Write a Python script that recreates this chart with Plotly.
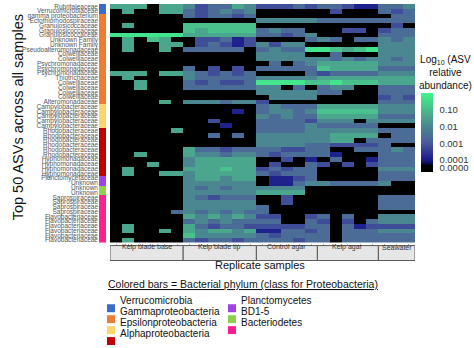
import plotly.graph_objects as go

W, H = 474, 348

row_labels = [
    "Rubritaleaceae", "Verrucomicrobiaceae", "gamma proteobacterium", "Ectothiorhodospiraceae",
    "Granulosicoccaceae", "Granulosicoccaceae", "Granulosicoccaceae", "Unknown Family", "Unknown Family",
    "Pseudoalteromonadaceae", "Colwelliaceae", "Colwelliaceae", "Psychromonadaceae", "Psychromonadaceae",
    "Psychromonadaceae", "Thiotrichaceae", "Colwelliaceae", "Colwelliaceae", "Colwelliaceae", "Colwelliaceae",
    "Alteromonadaceae", "Campylobacteraceae", "Campylobacteraceae", "Campylobacteraceae",
    "Campylobacteraceae", "Campylobacteraceae", "Rhodobacteraceae", "Rhodobacteraceae",
    "Rhodobacteraceae", "Rhodobacteraceae", "Rhodobacteraceae", "Rhodobacteraceae",
    "Hyphomonadaceae", "Hyphomonadaceae", "Hyphomonadaceae", "Hyphomonadaceae",
    "Planctomycetaceae", "Unknown", "Unknown", "Unknown",
    "Saprospiraceae", "Saprospiraceae", "Saprospiraceae", "Saprospiraceae",
    "Flavobacteriaceae", "Flavobacteriaceae", "Flavobacteriaceae", "Flavobacteriaceae",
    "Flavobacteriaceae", "Flavobacteriaceae",
]

phylum_names = ["Verrucomicrobia", "Gammaproteobacteria", "Epsilonproteobacteria",
                "Alphaproteobacteria", "Planctomycetes", "BD1-5", "Bacteriodetes"]
phylum_colors = ["#3b6cc6", "#ee7d31", "#fdd66a", "#c00000", "#a142e6", "#8fd14f", "#ff1f8e"]
phylum_row_counts = [2, 19, 5, 10, 2, 2, 10]

sample_groups = ["Kelp blade base", "Kelp blade tip", "Control agar", "Kelp agar", "Seawater"]
group_sizes = [6, 6, 5, 5, 3]

# abundance class -> log10 relative abundance
level_log10 = {"0": -4.75, "1": -3.9, "2": -3.2, "3": -2.6, "4": -2.0,
               "5": -1.4, "6": -0.9, "7": -0.3}

heat_levels = [
    "555055 423354 22232 33211 334",
    "050055 323434 00000 02000 323",
    "000000 323323 00000 00000 033",
    "000000 000000 44444 33333 333",
    "050000 666666 00000 00000 020",
    "000000 656666 34330 00220 233",
    "777777 555555 33234 00000 333",
    "050650 022312 00003 43033 434",
    "050055 023212 42440 00000 444",
    "050050 333330 34337 76567 444",
    "000000 000000 44440 03000 444",
    "000000 000000 44444 43434 434",
    "000000 000000 03034 55555 444",
    "000000 302020 33333 65555 333",
    "555055 432323 00003 23333 444",
    "050000 433333 44444 55555 555",
    "005000 323223 77776 67666 555",
    "005000 333333 44030 34400 333",
    "000000 000000 44444 33000 333",
    "000000 000000 04444 00000 232",
    "000050 444344 20000 00000 333",
    "000000 000000 34333 55555 444",
    "000000 000010 34434 66666 444",
    "000000 000000 43433 55555 333",
    "000000 002000 33332 44404 444",
    "000000 000100 33334 33333 000",
    "000005 000000 33334 44444 333",
    "000000 003030 44444 45555 033",
    "000000 000000 44444 45503 333",
    "000000 000000 44443 32222 300",
    "000000 533233 33223 30033 343",
    "005000 544344 32333 31000 333",
    "000000 455555 00201 03001 333",
    "000500 455555 02003 20202 333",
    "050000 555655 23233 00000 444",
    "050055 455555 32333 00000 333",
    "000000 455455 01123 00000 333",
    "000000 444444 01134 43333 400",
    "000000 434344 44440 00000 000",
    "000000 444444 55550 00000 000",
    "000000 432333 00200 00000 333",
    "000000 444444 00200 00000 333",
    "000000 444444 30000 00000 333",
    "000003 434343 30000 00000 000",
    "000000 545454 22002 30300 444",
    "000000 343433 33003 20203 444",
    "050000 532332 22223 30312 222",
    "050050 545545 11332 30333 444",
    "000000 644444 32333 30333 333",
    "050000 323323 33323 30333 333",
]

cbar_tickvals = [-1, -2, -3, -4, -4.45]
cbar_ticktext = ["0.10", "0.01", "0.001", "0.0001", "0.0000"]

# ---------------------------------------------------------------------------
n_cols = sum(group_sizes)
xs = list(range(1, n_cols + 1))
ys = list(range(1, len(row_labels) + 1))
z = [[level_log10[c] for c in s.replace(" ", "")] for s in heat_levels]

row_phylum = []
for i, n in enumerate(phylum_row_counts):
    row_phylum += [i] * n

heat_scale = [
    [0.0, "#000000"], [0.085, "#000000"], [0.11, "#0c0c5c"], [0.16, "#1c1c8a"],
    [0.37, "#4a5a9c"], [0.58, "#4b8790"], [0.79, "#4bbb8c"], [1.0, "#3ef78b"],
]

nP = len(phylum_colors)
phy_scale = []
for i, c in enumerate(phylum_colors):
    phy_scale += [[i / nP, c], [(i + 1) / nP, c]]


def px(xp):
    return xp / W


def py(yp):
    return 1 - yp / H


FONT = "Liberation Sans, Arial, sans-serif"

fig = go.Figure()
fig.add_trace(go.Heatmap(
    x=xs, y=ys, z=z, xaxis="x", yaxis="y",
    colorscale=heat_scale, zmin=-4.75, zmax=0,
    colorbar=dict(
        x=px(421), xanchor="left", xpad=0,
        y=py(93), yanchor="top", ypad=0,
        len=79 / H, lenmode="fraction",
        thickness=12, thicknessmode="pixels",
        outlinewidth=0,
        tickvals=cbar_tickvals, ticktext=cbar_ticktext,
        ticks="outside", ticklen=5, tickcolor="rgba(0,0,0,0)",
        tickfont=dict(size=9.5, color="#333", family=FONT),
    ),
    hoverinfo="skip",
))
fig.add_trace(go.Heatmap(
    x=[1], y=ys, z=[[p] for p in row_phylum], xaxis="x2", yaxis="y",
    colorscale=phy_scale, zmin=-0.5, zmax=nP - 0.5, showscale=False, hoverinfo="skip",
))

shapes = []
annotations = []

# strip boxes under the heat map
start = 0.5
for name, n in zip(sample_groups, group_sizes):
    shapes.append(dict(type="rect", xref="x", yref="paper", x0=start, x1=start + n,
                       y0=py(261), y1=py(246), fillcolor="#e6e6e6",
                       line=dict(color="#5a5a5a", width=1), layer="above"))
    annotations.append(dict(x=start + n / 2, y=py(253.5), xref="x", yref="paper",
                            text=name, showarrow=False,
                            font=dict(size=7, color="#333", family=FONT)))
    start += n

annotations.append(dict(x=px(8), y=py(117), xref="paper", yref="paper",
                        text="Top 50 ASVs across all samples", textangle=-90,
                        showarrow=False, font=dict(size=14.5, color="#111", family=FONT)))
annotations.append(dict(x=px(260), y=py(274), xref="paper", yref="paper",
                        text="Replicate samples", showarrow=False,
                        font=dict(size=11, color="#111", family=FONT)))
annotations.append(dict(x=px(106), y=py(293), xref="paper", yref="paper", xanchor="left",
                        text="<u>Colored bars = Bacterial phylum (class for Proteobacteria)</u>",
                        showarrow=False, font=dict(size=10.5, color="#111", family=FONT)))
annotations.append(dict(x=px(417), y=py(93), xref="paper", yref="paper",
                        xanchor="left", yanchor="bottom",
                        text="Log<sub>10</sub> (ASV<br>relative<br>abundance)",
                        showarrow=False, align="center",
                        font=dict(size=10, color="#111", family=FONT)))

# legend of phylum colours (two columns)
legend_pos = [(107, 309), (107, 320), (107, 331), (107, 342), (228, 309), (228, 320), (228, 331)]
for (lx, ly), name, col in zip(legend_pos, phylum_names, phylum_colors):
    shapes.append(dict(type="rect", xref="paper", yref="paper",
                       x0=px(lx), x1=px(lx + 8), y0=py(ly + 4), y1=py(ly - 4),
                       fillcolor=col, line=dict(width=0)))
    annotations.append(dict(x=px(lx + 11), y=py(ly), xref="paper", yref="paper",
                            xanchor="left", text=name, showarrow=False,
                            font=dict(size=10, color="#111", family=FONT)))

fig.update_layout(
    width=W, height=H, margin=dict(l=0, r=0, t=0, b=0),
    paper_bgcolor="white", plot_bgcolor="white",
    xaxis=dict(domain=[px(110), px(415)], range=[0.5, n_cols + 0.5], anchor="y",
               showticklabels=False, showgrid=False, zeroline=False,
               tickvals=xs, ticks="outside", ticklen=2, tickcolor="#aaa"),
    xaxis2=dict(domain=[px(99), px(106)], range=[0.5, 1.5], anchor="y", visible=False),
    yaxis=dict(domain=[py(243), py(3)], range=[len(ys) + 0.5, 0.5], anchor="x2",
               tickvals=ys, ticktext=row_labels, showgrid=False, zeroline=False,
               ticks="", tickfont=dict(size=6.5, color="#555", family=FONT)),
    shapes=shapes, annotations=annotations, showlegend=False,
)

fig.write_html("out.html")
